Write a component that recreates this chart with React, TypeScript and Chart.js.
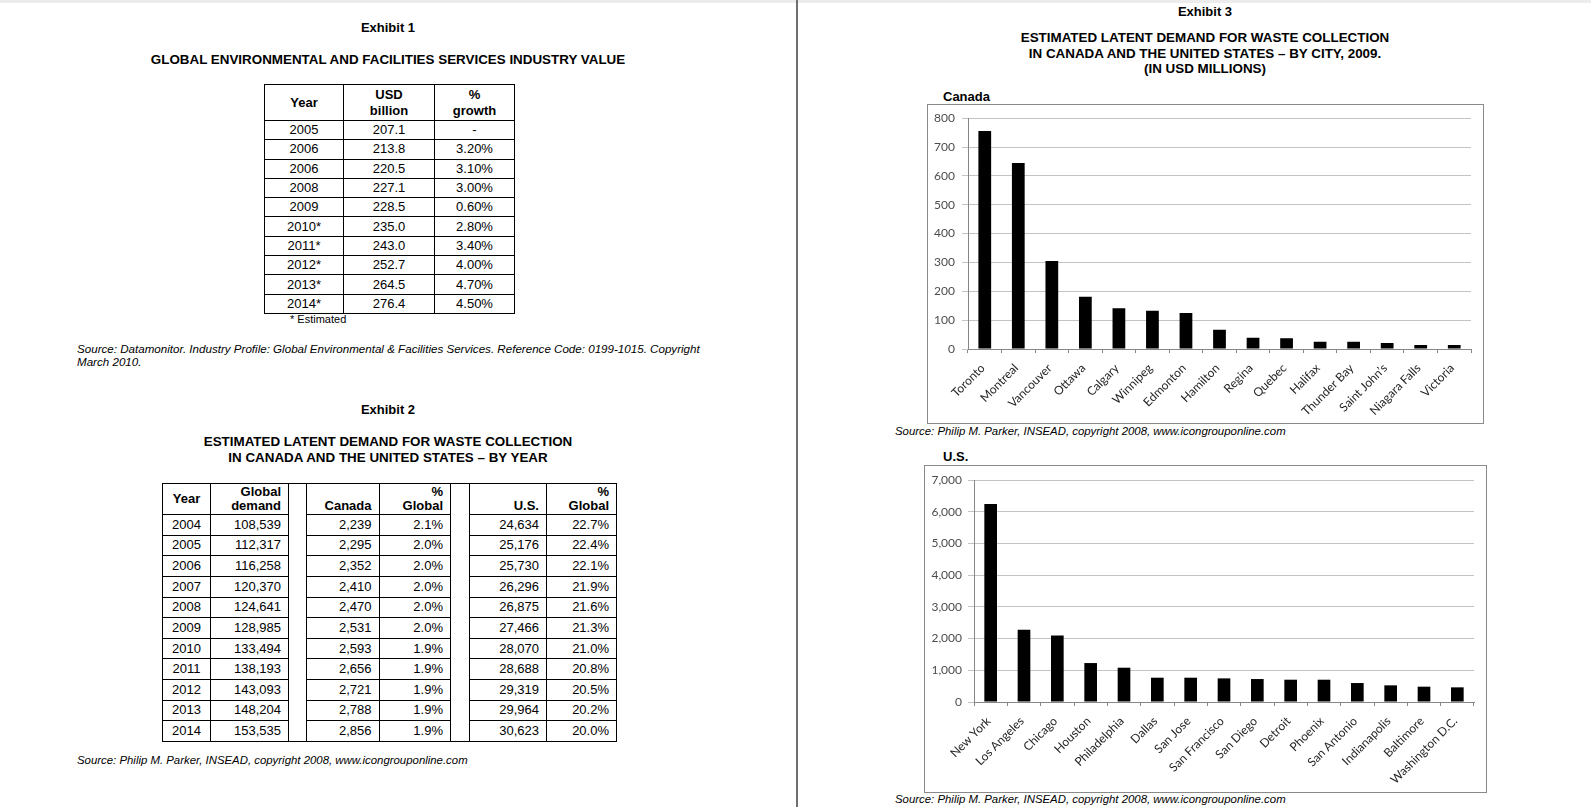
import React, { useEffect, useRef } from 'react';
import { Chart, registerables } from 'chart.js';

Chart.register(...registerables);

// ---------- Exhibit 1 data ----------
const ex1Years = ['2005', '2006', '2006', '2008', '2009', '2010*', '2011*', '2012*', '2013*', '2014*'];
const ex1Usd = ['207.1', '213.8', '220.5', '227.1', '228.5', '235.0', '243.0', '252.7', '264.5', '276.4'];
const ex1Growth = ['-', '3.20%', '3.10%', '3.00%', '0.60%', '2.80%', '3.40%', '4.00%', '4.70%', '4.50%'];

// ---------- Exhibit 2 data ----------
const ex2Years = ['2004', '2005', '2006', '2007', '2008', '2009', '2010', '2011', '2012', '2013', '2014'];
const ex2Global = ['108,539', '112,317', '116,258', '120,370', '124,641', '128,985', '133,494', '138,193', '143,093', '148,204', '153,535'];
const ex2Canada = ['2,239', '2,295', '2,352', '2,410', '2,470', '2,531', '2,593', '2,656', '2,721', '2,788', '2,856'];
const ex2CanadaPct = ['2.1%', '2.0%', '2.0%', '2.0%', '2.0%', '2.0%', '1.9%', '1.9%', '1.9%', '1.9%', '1.9%'];
const ex2Us = ['24,634', '25,176', '25,730', '26,296', '26,875', '27,466', '28,070', '28,688', '29,319', '29,964', '30,623'];
const ex2UsPct = ['22.7%', '22.4%', '22.1%', '21.9%', '21.6%', '21.3%', '21.0%', '20.8%', '20.5%', '20.2%', '20.0%'];

// ---------- Exhibit 3 data ----------
const canadaCities = ['Toronto', 'Montreal', 'Vancouver', 'Ottawa', 'Calgary', 'Winnipeg', 'Edmonton', 'Hamilton', 'Regina', 'Quebec', 'Halifax', 'Thunder Bay', 'Saint John\u2019s', 'Niagara Falls', 'Victoria'];
const canadaValues = [756, 645, 305, 181, 141, 133, 125, 67, 39, 37, 25, 25, 21, 14, 14];
const canadaTicks = { max: 800, step: 100 };

const usCities = ['New York', 'Los Angeles', 'Chicago', 'Houston', 'Philadelphia', 'Dallas', 'San Jose', 'San Francisco', 'San Diego', 'Detroit', 'Phoenix', 'San Antonio', 'Indianapolis', 'Baltimore', 'Washington D.C.'];
const usValues = [6244, 2277, 2099, 1228, 1081, 766, 766, 745, 724, 703, 703, 598, 525, 483, 462];
const usTicks = { max: 7000, step: 1000 };

const SANS = '"Liberation Sans", Arial, Helvetica, sans-serif';

function Txt(props: { x: number; y: number; children: any; left?: boolean; size?: number; bold?: boolean; italic?: boolean }) {
  const { x, y, children, left, size = 13, bold, italic } = props;
  return (
    <div
      style={{
        position: 'absolute',
        left: x,
        top: y,
        transform: left ? 'translate(0,-50%)' : 'translate(-50%,-50%)',
        whiteSpace: 'nowrap',
        fontFamily: SANS,
        fontSize: size,
        fontWeight: bold ? 700 : 400,
        fontStyle: italic ? 'italic' : 'normal',
        lineHeight: 1.15,
        color: '#000',
      }}
    >
      {children}
    </div>
  );
}

const bd = '1px solid #000';

function Exhibit1Table() {
  const colW = [79, 91, 80];
  const cell: any = { border: bd, padding: 0, textAlign: 'center', verticalAlign: 'middle' };
  return (
    <table
      style={{
        position: 'absolute', left: 264, top: 84, borderCollapse: 'collapse', tableLayout: 'fixed',
        width: colW.reduce((a, b) => a + b, 0), fontFamily: SANS, fontSize: 13, lineHeight: '16px',
      }}
    >
      <colgroup>{colW.map((w, i) => <col key={i} style={{ width: w }} />)}</colgroup>
      <tbody>
        <tr style={{ height: 36 }}>
          <th style={{ ...cell }}>Year</th>
          <th style={{ ...cell }}>USD<br />billion</th>
          <th style={{ ...cell }}>%<br />growth</th>
        </tr>
        {ex1Years.map((y, i) => (
          <tr key={i} style={{ height: 19.3 }}>
            <td style={cell}>{y}</td>
            <td style={cell}>{ex1Usd[i]}</td>
            <td style={cell}>{ex1Growth[i]}</td>
          </tr>
        ))}
      </tbody>
    </table>
  );
}

function Exhibit2Table() {
  const colW = [48, 78, 18, 72.5, 71.5, 19, 77, 70];
  const cell: any = { border: bd, padding: 0, paddingRight: 7, textAlign: 'right', verticalAlign: 'middle' };
  const head: any = { ...cell, verticalAlign: 'bottom', paddingBottom: 1, lineHeight: '14px' };
  const gap: any = { border: bd, padding: 0 };
  const n = ex2Years.length;
  return (
    <table
      style={{
        position: 'absolute', left: 162, top: 483, borderCollapse: 'collapse', tableLayout: 'fixed',
        width: colW.reduce((a, b) => a + b, 0), fontFamily: SANS, fontSize: 13, lineHeight: '16px',
      }}
    >
      <colgroup>{colW.map((w, i) => <col key={i} style={{ width: w }} />)}</colgroup>
      <tbody>
        <tr style={{ height: 31 }}>
          <th style={{ ...cell, textAlign: 'center', paddingRight: 0 }}>Year</th>
          <th style={head}>Global<br />demand</th>
          <td style={gap} rowSpan={n + 1}></td>
          <th style={head}>Canada</th>
          <th style={head}>%<br />Global</th>
          <td style={gap} rowSpan={n + 1}></td>
          <th style={head}>U.S.</th>
          <th style={head}>%<br />Global</th>
        </tr>
        {ex2Years.map((y, i) => (
          <tr key={i} style={{ height: 20.64 }}>
            <td style={{ ...cell, textAlign: 'center', paddingRight: 0 }}>{y}</td>
            <td style={cell}>{ex2Global[i]}</td>
            <td style={cell}>{ex2Canada[i]}</td>
            <td style={cell}>{ex2CanadaPct[i]}</td>
            <td style={cell}>{ex2Us[i]}</td>
            <td style={cell}>{ex2UsPct[i]}</td>
          </tr>
        ))}
      </tbody>
    </table>
  );
}

function BarChart(props: {
  labels: string[]; values: number[]; max: number; step: number;
  left: number; top: number; width: number; height: number;
  axisW: number; axisH: number; padTop: number; padRight: number; yPad: number;
}) {
  const ref = useRef<HTMLCanvasElement>(null);
  const { labels, values, max, step, left, top, width, height, axisW, axisH, padTop, padRight, yPad } = props;
  useEffect(() => {
    const chart = new Chart(ref.current as HTMLCanvasElement, {
      type: 'bar',
      data: {
        labels,
        datasets: [
          {
            data: values,
            backgroundColor: '#000',
            borderWidth: 0,
            barPercentage: 0.38,
            categoryPercentage: 1,
          },
        ],
      },
      options: {
        animation: false,
        responsive: false,
        maintainAspectRatio: false,
        layout: { padding: { left: 0, right: padRight, top: padTop, bottom: 0 } },
        plugins: { legend: { display: false }, tooltip: { enabled: false } },
        scales: {
          x: {
            grid: { display: true, drawOnChartArea: false, drawTicks: true, tickLength: 4, color: '#868686', offset: true },
            border: { color: '#868686', width: 1 },
            ticks: {
              minRotation: 45, maxRotation: 45, autoSkip: false, padding: 8, labelOffset: -2,
              font: { family: 'Lato', size: 12 }, color: '#262626',
            },
            afterFit: (s: any) => { s.height = axisH; },
          },
          y: {
            min: 0, max,
            ticks: {
              stepSize: step, padding: yPad,
              font: { family: 'Lato', size: 12 }, color: '#4d4d4d',
              callback: (v: any) => Number(v).toLocaleString('en-US'),
            },
            grid: { color: '#c4c4c4', tickLength: 6, lineWidth: 1 },
            border: { color: '#868686', width: 1 },
            afterFit: (s: any) => { s.width = axisW; },
          },
        },
      },
    });
    return () => chart.destroy();
  }, []);
  return (
    <canvas
      ref={ref}
      width={width}
      height={height}
      style={{ position: 'absolute', left, top, width, height, display: 'block' }}
    />
  );
}

export default function App() {
  return (
    <div style={{ position: 'relative', width: 1591, height: 807, background: '#fff', overflow: 'hidden' }}>
      <style>{`body{margin:0;background:#fff}`}</style>
      <div style={{ position: 'absolute', left: 0, top: 0, width: 1591, height: 3, background: '#ececec' }} />
      <div style={{ position: 'absolute', left: 796, top: 0, width: 2, height: 807, background: '#6f6f6f' }} />

      {/* Exhibit 1 */}
      <Txt x={388} y={28} bold>Exhibit 1</Txt>
      <Txt x={388} y={60} bold size={13.4}>GLOBAL ENVIRONMENTAL AND FACILITIES SERVICES INDUSTRY VALUE</Txt>
      <Exhibit1Table />
      <Txt x={290} y={319} left size={11}>* Estimated</Txt>
      <Txt x={77} y={349} left italic size={11.6}>Source: Datamonitor. Industry Profile: Global Environmental &amp; Facilities Services. Reference Code: 0199-1015. Copyright</Txt>
      <Txt x={77} y={362} left italic size={11.6}>March 2010.</Txt>

      {/* Exhibit 2 */}
      <Txt x={388} y={410} bold>Exhibit 2</Txt>
      <Txt x={388} y={442} bold size={13.4}>ESTIMATED LATENT DEMAND FOR WASTE COLLECTION</Txt>
      <Txt x={388} y={458} bold size={13.4}>IN CANADA AND THE UNITED STATES – BY YEAR</Txt>
      <Exhibit2Table />
      <Txt x={77} y={761} left italic size={11.4}>Source: Philip M. Parker, INSEAD, copyright 2008, www.icongrouponline.com</Txt>

      {/* Exhibit 3 */}
      <Txt x={1205} y={12} bold>Exhibit 3</Txt>
      <Txt x={1205} y={38} bold size={13.4}>ESTIMATED LATENT DEMAND FOR WASTE COLLECTION</Txt>
      <Txt x={1205} y={53.5} bold size={13.4}>IN CANADA AND THE UNITED STATES – BY CITY, 2009.</Txt>
      <Txt x={1205} y={69} bold size={13.4}>(IN USD MILLIONS)</Txt>

      <Txt x={943} y={97} left bold size={13}>Canada</Txt>
      <div style={{ position: 'absolute', left: 927, top: 104, width: 557, height: 320, border: '1px solid #8a8a8a', boxSizing: 'border-box' }} />
      <BarChart
        labels={canadaCities} values={canadaValues} max={canadaTicks.max} step={canadaTicks.step}
        left={927} top={104} width={557} height={320}
        axisW={41} axisH={75} padTop={14} padRight={13} yPad={7}
      />
      <Txt x={895} y={432} left italic size={11.4}>Source: Philip M. Parker, INSEAD, copyright 2008, www.icongrouponline.com</Txt>

      <Txt x={943} y={457} left bold size={13}>U.S.</Txt>
      <div style={{ position: 'absolute', left: 924, top: 465, width: 563, height: 328, border: '1px solid #8a8a8a', boxSizing: 'border-box' }} />
      <BarChart
        labels={usCities} values={usValues} max={usTicks.max} step={usTicks.step}
        left={924} top={465} width={563} height={328}
        axisW={50} axisH={91} padTop={15} padRight={13} yPad={6}
      />
      <Txt x={895} y={800} left italic size={11.4}>Source: Philip M. Parker, INSEAD, copyright 2008, www.icongrouponline.com</Txt>
    </div>
  );
}
